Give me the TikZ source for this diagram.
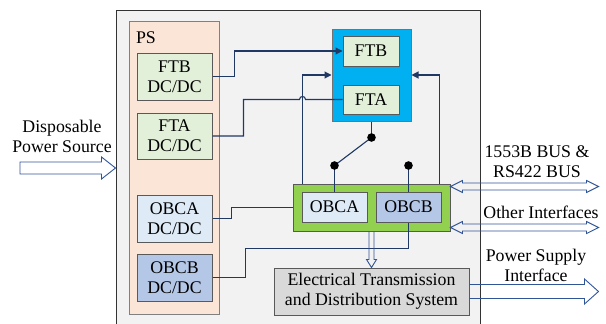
\documentclass[tikz,border=0pt]{standalone}
\usepackage{fontspec}
\setmainfont{Liberation Serif}
\usetikzlibrary{arrows.meta,calc}

\definecolor{wirecol}{HTML}{1F3864}
\definecolor{arrowcol}{HTML}{2F5597}
\definecolor{satgray}{HTML}{F2F2F2}
\definecolor{pspeach}{HTML}{FBE5D6}
\definecolor{dcgreen}{HTML}{E2F0D9}
\definecolor{obcalight}{HTML}{DEEBF7}
\definecolor{obcbblue}{HTML}{B4C7E7}
\definecolor{ftcyan}{HTML}{00B0F0}
\definecolor{obcgreen}{HTML}{92D050}
\definecolor{etdsgray}{HTML}{D9D9D9}

\tikzset{
  box/.style={draw=black!65, line width=1pt, inner sep=0pt, align=center},
  wire/.style={draw=wirecol, line width=1.1pt},
  hollow/.style={draw=arrowcol, line width=0.9pt, line join=miter},
}

\begin{document}
\begin{tikzpicture}[x=1pt,y=-1pt,
  every node/.style={font=\fontsize{17.8}{20}\selectfont},
  >={Triangle[length=7pt,width=7pt]}]
\useasboundingbox (0,0) rectangle (606,324);
\clip (0,0) rectangle (606,324);

% Satellite frame and power subsystem
\node[box, draw=black!80, fill=satgray, minimum width=364pt, minimum height=330pt] (sat) at (298,175) {};
\node[box, draw=black!50, fill=pspeach, minimum width=90pt, minimum height=293pt] (ps) at (174,167.5) {};
\node (psText) at (146,38) {PS};

\node[box, fill=dcgreen, minimum width=75pt, minimum height=47pt] (ftbdc) at (174.5,76.5) {FTB\\DC/DC};
\node[box, fill=dcgreen, minimum width=75pt, minimum height=46pt] (ftadc) at (174.5,136) {FTA\\DC/DC};
\node[box, fill=obcalight, minimum width=75pt, minimum height=47pt] (obcadc) at (174.5,218.5) {OBCA\\DC/DC};
\node[box, fill=obcbblue, minimum width=75pt, minimum height=47pt] (obcbdc) at (174.5,277.5) {OBCB\\DC/DC};

% Flight terminal and on-board computer
\node[box, draw=black!55, fill=ftcyan, minimum width=79pt, minimum height=92pt] (ftbox) at (371.5,75) {};
\node[box, fill=dcgreen, minimum width=56pt, minimum height=30pt] (ftb) at (371,51) {FTB};
\node[box, fill=dcgreen, minimum width=56pt, minimum height=29pt] (fta) at (371,99.5) {FTA};

\node[box, fill=obcgreen, minimum width=157pt, minimum height=47pt] (green) at (371.5,207.5) {};
\node[box, fill=obcalight, minimum width=65pt, minimum height=30pt] (obca) at (334.5,207) {OBCA};
\node[box, fill=obcbblue, minimum width=65pt, minimum height=30pt] (obcb) at (408.5,207) {OBCB};

\node[box, fill=etdsgray, minimum width=195pt, minimum height=47pt] (etds) at (371.5,291.5) {Electrical Transmission\\and Distribution System};

% Power lines
\coordinate (hop) at ($(green.north west)+(10,0)$);
\coordinate (hopX) at (hop |- fta.west);
\draw[wire,->] (ftbdc.east) -- ++(22,0) |- (ftb.west);
\draw[wire] (ftadc.east) -- ++(31,0) |- ($(hopX)+(-3,0)$)
  .. controls ($(hopX)+(-3,-4)$) and ($(hopX)+(3,-4)$) .. ($(hopX)+(3,0)$) -- (fta.west);
\draw[wire,->] (hop) |- (ftbox.west);
\draw[wire,->] ($(green.north east)+(-11,0)$) |- (ftbox.east);
\draw[wire] (obcadc.east) -- ++(19,0) |- (green.west);
\draw[wire] (obcbdc.east) -- ++(33,0) -- ++(0,-29) -| (obcb.south);

% Switch between OBCA and OBCB
\coordinate (swTop) at ($(ftbox.south)+(0,16)$);
\coordinate (swA) at ($(obca.north)+(0,-26)$);
\coordinate (swB) at ($(obcb.north)+(0,-26)$);
\draw[wire] (ftbox.south) -- (swTop);
\draw[wire] (swA) -- (swTop);
\draw[wire] (swA) -- (obca.north);
\draw[wire] (swB) -- (obcb.north);
\fill[black] (swTop) circle (4.3pt) (swA) circle (4.3pt) (swB) circle (4.3pt);

% Block arrows
\coordinate (srcTail) at (20,168);
\coordinate (srcTip) at (sat.west |- srcTail);
\draw[hollow] ($(srcTail)+(0,-6)$) -- ($(srcTip)+(-14,-6)$) -- ++(0,-5) -- (srcTip)
  -- ($(srcTip)+(-14,11)$) -- ++(0,-5) -- ($(srcTail)+(0,6)$) -- cycle;

\coordinate (downTip) at (green.south |- etds.north);
\draw[hollow] ($(green.south)+(-2.5,0)$) -- ($(downTip)+(-2.5,-8)$) -- ++(-2.5,0) -- (downTip)
  -- ++(5,-8) -- ++(-2.5,0) -- ($(green.south)+(2.5,0)$);

\coordinate (psiTip) at ($(etds.east)+(129,0)$);
\draw[hollow] ($(etds.east)+(0,-7)$) -- ($(psiTip)+(-14,-7)$) -- ++(0,-5.5) -- (psiTip)
  -- ($(psiTip)+(-14,12.5)$) -- ++(0,-5.5) -- ($(etds.east)+(0,7)$);

\coordinate (busL) at ($(green.north east)+(0,3)$);
\coordinate (busR) at ($(busL)+(148,0)$);
\draw[hollow] (busL) -- ++(12,-6) -- ++(0,2.5) -- ($(busR)+(-12,-3.5)$) -- ++(0,-2.5) -- (busR)
  -- ++(-12,6) -- ++(0,-2.5) -- ($(busL)+(12,3.5)$) -- ++(0,2.5) -- cycle;

\coordinate (otherL) at ($(green.south east)+(0,-4)$);
\coordinate (otherR) at ($(otherL)+(148,0)$);
\draw[hollow] (otherL) -- ++(12,-6) -- ++(0,2.5) -- ($(otherR)+(-12,-3.5)$) -- ++(0,-2.5) -- (otherR)
  -- ++(-12,6) -- ++(0,-2.5) -- ($(otherL)+(12,3.5)$) -- ++(0,2.5) -- cycle;

% Interface labels
\node[align=center] (srcText) at (62,136) {Disposable\\Power Source};
\node[align=center] (busText) at (537,162) {1553B BUS \&\\RS422 BUS};
\node (otherText) at (541,212) {Other Interfaces};
\node[align=center] (psiText) at (536,265) {Power Supply\\Interface};
\end{tikzpicture}
\end{document}
